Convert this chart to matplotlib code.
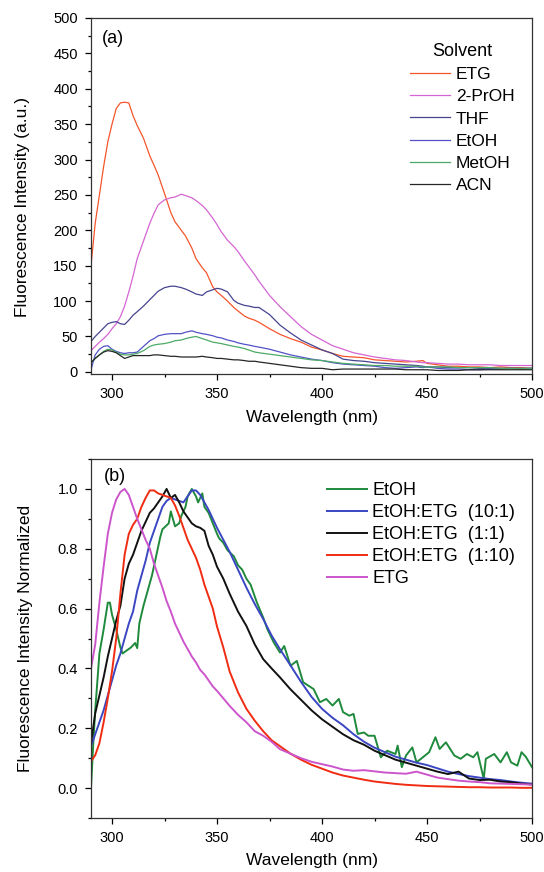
import matplotlib
matplotlib.use('Agg')
import matplotlib.pyplot as plt
from matplotlib.ticker import MultipleLocator, FormatStrFormatter

plt.rcParams['font.family'] = ['Liberation Sans', 'DejaVu Sans']

# ---- panel (a): raw spectra in different solvents ----
wl_a = [290, 292, 294, 296, 298, 300, 302, 304, 306, 308,
        310, 312, 315, 318, 320, 322, 325, 328, 330, 333,
        335, 338, 340, 343, 345, 348, 350, 352, 355, 358,
        360, 363, 365, 368, 370, 375, 380, 385, 390, 395,
        400, 405, 410, 415, 420, 425, 430, 435, 440, 445,
        448, 450, 455, 460, 465, 470, 475, 480, 485, 490,
        495, 500]
etg_a = [150, 210, 250, 290, 325, 350, 372, 380, 381, 380,
         362, 348, 330, 305, 292, 278, 252, 225, 212, 200,
         192, 175, 160, 147, 140, 120, 113, 108, 100, 91,
         86, 79, 76, 73, 70, 61, 53, 47, 42, 35,
         31, 26, 22, 21, 20, 17, 16, 15, 14, 15,
         16, 12, 10, 8, 8, 7, 7, 6, 7, 6,
         6, 5]
prop_a = [30, 36, 42, 47, 53, 61, 68, 78, 93, 113,
          135, 160, 185, 210, 224, 236, 243, 246, 247, 251,
          249, 246, 242, 235, 229, 217, 208, 198, 186, 177,
          170, 157, 149, 137, 128, 108, 92, 78, 64, 53,
          45, 37, 32, 27, 24, 21, 19, 17, 16, 14,
          13, 13, 12, 11, 11, 10, 10, 10, 9, 9,
          9, 9]
thf_a = [43, 50, 56, 62, 68, 70, 71, 68, 67, 73,
         80, 85, 93, 102, 108, 114, 119, 121, 121, 119,
         117, 113, 110, 108, 113, 116, 118, 117, 113, 101,
         97, 94, 93, 91, 91, 81, 66, 55, 45, 38,
         31, 26, 18, 16, 15, 13, 12, 11, 10, 9,
         8, 7, 7, 6, 6, 6, 5, 5, 5, 5,
         5, 5]
etoh_a = [3, 24, 32, 36, 37, 32, 29, 27, 26, 27,
          27, 28, 36, 44, 47, 51, 53, 54, 54, 54,
          56, 58, 56, 54, 53, 51, 49, 48, 45, 43,
          41, 39, 38, 36, 35, 32, 28, 24, 21, 18,
          16, 13, 11, 10, 9, 8, 6, 5, 6, 7,
          6, 7, 5, 4, 4, 3, 3, 4, 4, 5,
          4, 5]
meoh_a = [13, 19, 24, 29, 32, 31, 28, 25, 24, 24,
          25, 26, 30, 36, 38, 39, 40, 42, 44, 45,
          47, 49, 50, 47, 45, 42, 41, 40, 38, 36,
          35, 33, 31, 28, 27, 25, 23, 21, 19, 17,
          16, 14, 12, 11, 10, 9, 9, 8, 8, 8,
          7, 7, 7, 7, 6, 6, 6, 6, 5, 5,
          5, 5]
acn_a = [13, 19, 24, 28, 30, 29, 27, 23, 19, 21,
         23, 23, 23, 23, 24, 24, 23, 22, 22, 21,
         21, 21, 21, 22, 21, 20, 19, 19, 18, 17,
         17, 16, 15, 15, 14, 12, 10, 8, 6, 5,
         5, 3, 4, 4, 4, 4, 4, 4, 3, 3,
         3, 3, 2, 2, 2, 3, 3, 3, 3, 3,
         3, 3]
labels_a = ['ETG', '2-PrOH', 'THF', 'EtOH', 'MetOH', 'ACN']
colors_a = ['#F4552B', '#D565D3', '#46448F', '#5252C6', '#4DAA66', '#262626']

# ---- panel (b): normalized spectra in EtOH/ETG mixtures ----
wl_b = [290, 292, 294, 296, 298, 300, 302, 304, 306, 308,
        310, 312, 314, 316, 318, 320, 322, 324, 326, 328,
        330, 332, 334, 336, 338, 340, 342, 344, 346, 348,
        350, 353, 356, 360, 364, 368, 372, 376, 380, 385,
        390, 395, 400, 405, 410, 415, 420, 425, 430, 435,
        440, 445, 450, 455, 460, 465, 470, 475, 480, 485,
        490, 495, 500]
mix10_1 = [0.14, 0.18, 0.22, 0.26, 0.31, 0.36, 0.41, 0.45, 0.50, 0.55,
           0.59, 0.66, 0.71, 0.76, 0.82, 0.86, 0.90, 0.94, 0.96, 0.97,
           0.965, 0.96, 0.955, 0.975, 0.995, 0.995, 0.98, 0.955, 0.93, 0.90,
           0.87, 0.83, 0.79, 0.73, 0.67, 0.615, 0.565, 0.51, 0.464, 0.41,
           0.355, 0.305, 0.265, 0.235, 0.21, 0.18, 0.155, 0.135, 0.12, 0.105,
           0.095, 0.085, 0.077, 0.066, 0.055, 0.047, 0.04, 0.035, 0.03, 0.027,
           0.022, 0.018, 0.015]
mix1_1 = [0.15, 0.25, 0.31, 0.37, 0.44, 0.50, 0.56, 0.61, 0.70, 0.75,
          0.78, 0.82, 0.86, 0.89, 0.92, 0.935, 0.955, 0.975, 1.0, 0.97,
          0.98, 0.955, 0.925, 0.905, 0.885, 0.875, 0.87, 0.86, 0.81, 0.78,
          0.74, 0.70, 0.65, 0.59, 0.542, 0.48, 0.431, 0.40, 0.37, 0.33,
          0.295, 0.26, 0.23, 0.205, 0.18, 0.16, 0.145, 0.125, 0.11, 0.095,
          0.085, 0.075, 0.065, 0.055, 0.047, 0.055, 0.032, 0.027, 0.028, 0.022,
          0.02, 0.015, 0.012]
mix1_10 = [0.09, 0.11, 0.15, 0.22, 0.30, 0.39, 0.50, 0.65, 0.78, 0.85,
           0.88, 0.90, 0.94, 0.97, 0.995, 0.995, 0.985, 0.98, 0.975, 0.97,
           0.945, 0.91, 0.87, 0.83, 0.80, 0.77, 0.73, 0.68, 0.64, 0.60,
           0.54, 0.47, 0.39, 0.32, 0.265, 0.225, 0.19, 0.16, 0.14, 0.115,
           0.095, 0.078, 0.065, 0.052, 0.042, 0.035, 0.028, 0.022, 0.018, 0.014,
           0.011, 0.009, 0.007, 0.006, 0.005, 0.004, 0.003, 0.003, 0.002, 0.002,
           0.002, 0.001, 0.001]
etg_b = [0.40, 0.48, 0.62, 0.74, 0.85, 0.92, 0.965, 0.99, 1.0, 0.98,
         0.94, 0.90, 0.865, 0.83, 0.80, 0.75, 0.71, 0.67, 0.625, 0.59,
         0.55, 0.52, 0.49, 0.465, 0.44, 0.42, 0.395, 0.38, 0.36, 0.34,
         0.325, 0.30, 0.275, 0.245, 0.22, 0.19, 0.175, 0.155, 0.13, 0.115,
         0.10, 0.088, 0.08, 0.072, 0.062, 0.058, 0.06, 0.056, 0.052, 0.05,
         0.048, 0.055, 0.045, 0.035, 0.03, 0.025, 0.022, 0.02, 0.016, 0.015,
         0.014, 0.013, 0.012]
# pure EtOH is noisy, read on its own grid
wl_etoh_b = [290, 291, 292, 294, 296, 298, 299, 300, 302, 304,
             305, 307, 309, 311, 312, 313, 315, 317, 319, 321,
             323, 324, 327, 328, 330, 332, 333, 335, 336, 338,
             340, 341, 343, 344, 346, 348, 350, 351, 353, 355,
             358, 360, 362, 364, 366, 369, 372, 374, 377, 380,
             382, 385, 388, 391, 396, 399, 402, 405, 408, 410,
             413, 415, 417, 420, 422, 425, 428, 431, 435, 436,
             438, 440, 443, 445, 448, 451, 454, 456, 459, 463,
             466, 469, 472, 474, 477, 478, 482, 485, 488, 490,
             493, 495, 497, 500]
etoh_b = [0.0, 0.14, 0.26, 0.45, 0.53, 0.62, 0.62, 0.58, 0.53, 0.47,
          0.45, 0.46, 0.47, 0.485, 0.468, 0.55, 0.61, 0.66, 0.71, 0.775,
          0.84, 0.865, 0.885, 0.925, 0.875, 0.885, 0.91, 0.94, 0.975, 1.0,
          0.975, 0.955, 0.985, 0.94, 0.92, 0.885, 0.85, 0.835, 0.82, 0.795,
          0.775, 0.745, 0.73, 0.70, 0.68, 0.62, 0.57, 0.531, 0.487, 0.453,
          0.475, 0.409, 0.425, 0.354, 0.331, 0.287, 0.298, 0.276, 0.298, 0.254,
          0.242, 0.248, 0.181, 0.186, 0.175, 0.175, 0.103, 0.125, 0.114, 0.142,
          0.07, 0.109, 0.136, 0.086, 0.103, 0.12, 0.17, 0.131, 0.153, 0.109,
          0.098, 0.114, 0.103, 0.12, 0.031, 0.098, 0.114, 0.086, 0.12, 0.086,
          0.075, 0.12, 0.105, 0.07]
labels_b = ['EtOH', 'EtOH:ETG  (10:1)', 'EtOH:ETG  (1:1)', 'EtOH:ETG  (1:10)', 'ETG']
colors_b = ['#1F8A3C', '#3A46C2', '#111111', '#F02C12', '#CC55CC']


def style_axes(ax):
    ax.tick_params(which='both', direction='out', top=False, right=False,
                   labelsize=10.5, pad=5, width=0.9)
    ax.tick_params(which='major', length=4.5)
    ax.tick_params(which='minor', length=2.5)
    for sp in ax.spines.values():
        sp.set_linewidth(0.9)
        sp.set_color('#333333')
    ax.set_xlim(290, 500)
    ax.xaxis.set_major_locator(MultipleLocator(50))
    ax.xaxis.set_minor_locator(MultipleLocator(25))
    ax.set_xlabel('Wavelength (nm)', fontsize=12.5)


fig = plt.figure(figsize=(5.44, 8.72), dpi=100)
ax1 = fig.add_axes([0.1673, 0.5711, 0.8107, 0.4083])
ax2 = fig.add_axes([0.1673, 0.0619, 0.8107, 0.4117])

# panel (a)
series_a = [etg_a, prop_a, thf_a, etoh_a, meoh_a, acn_a]
for y, lab, col in zip(series_a, labels_a, colors_a):
    ax1.plot(wl_a, y, color=col, lw=0.9, label=lab)
style_axes(ax1)
ax1.set_ylim(-3, 500)
ax1.yaxis.set_major_locator(MultipleLocator(50))
ax1.yaxis.set_minor_locator(MultipleLocator(25))
ax1.set_ylabel('Fluorescence Intensity (a.u.)', fontsize=12.5)
ax1.yaxis.set_label_coords(-0.138, 0.47)
ax1.xaxis.set_label_coords(0.5, -0.101)
ax1.text(0.025, 0.965, '(a)', transform=ax1.transAxes, fontsize=13, va='top', ha='left')
ax1.legend(title='Solvent', loc='upper left', bbox_to_anchor=(0.723, 0.929),
           frameon=False, fontsize=12.5, title_fontsize=13, handlelength=2.3,
           handletextpad=0.35, labelspacing=0.4, borderpad=0, borderaxespad=0)

# panel (b)
ax2.plot(wl_etoh_b, etoh_b, color=colors_b[0], lw=1.4, label=labels_b[0])
series_b = [mix10_1, mix1_1, mix1_10, etg_b]
for y, lab, col in zip(series_b, labels_b[1:], colors_b[1:]):
    ax2.plot(wl_b, y, color=col, lw=1.4, label=lab)
style_axes(ax2)
ax2.set_ylim(-0.1, 1.1)
ax2.yaxis.set_major_locator(MultipleLocator(0.2))
ax2.yaxis.set_minor_locator(MultipleLocator(0.1))
ax2.yaxis.set_major_formatter(FormatStrFormatter('%.1f'))
ax2.set_ylabel('Fluorescence Intensity Normalized', fontsize=12.5)
ax2.yaxis.set_label_coords(-0.132, 0.5)
ax2.xaxis.set_label_coords(0.5, -0.0975)
ax2.text(0.03, 0.975, '(b)', transform=ax2.transAxes, fontsize=13, va='top', ha='left')
ax2.legend(loc='upper left', bbox_to_anchor=(0.535, 0.936),
           frameon=False, fontsize=13, handlelength=2.2,
           handletextpad=0.31, labelspacing=0.28, borderpad=0, borderaxespad=0)

fig.savefig('out.png', dpi=100)
